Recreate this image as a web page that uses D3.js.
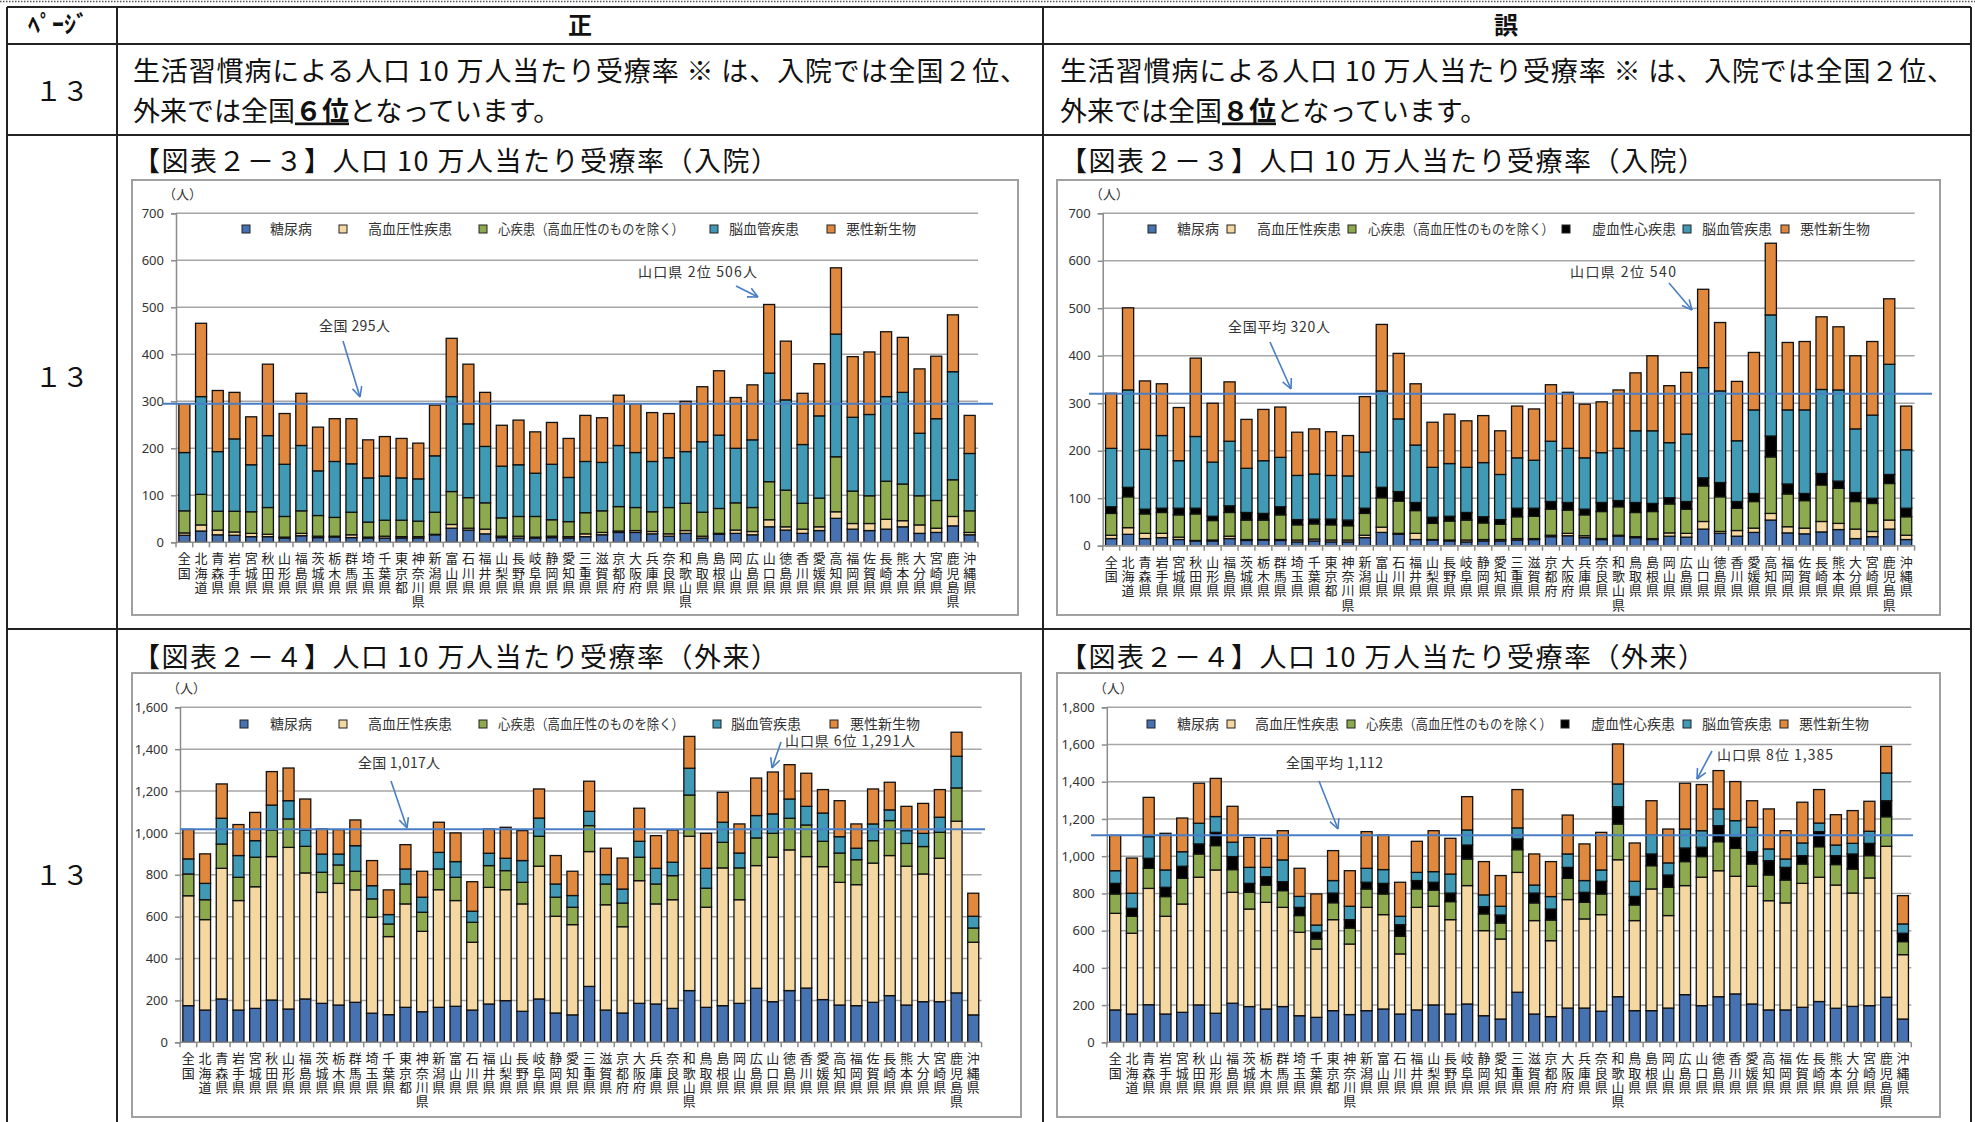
<!DOCTYPE html>
<html>
<head>
<meta charset="utf-8">
<script src="https://cdn.jsdelivr.net/npm/d3@7"></script>
<style>
body { margin: 0; background: #fff; }
svg text { font-family: "Noto Sans CJK JP", "Noto Sans", sans-serif; }
</style>
</head>
<body>
<svg id="page" width="1975" height="1122"></svg>
<script>
// ---- categories ----
var prefs = ["全国","北海道","青森県","岩手県","宮城県","秋田県","山形県","福島県","茨城県","栃木県","群馬県","埼玉県","千葉県","東京都","神奈川県","新潟県","富山県","石川県","福井県","山梨県","長野県","岐阜県","静岡県","愛知県","三重県","滋賀県","京都府","大阪府","兵庫県","奈良県","和歌山県","鳥取県","島根県","岡山県","広島県","山口県","徳島県","香川県","愛媛県","高知県","福岡県","佐賀県","長崎県","熊本県","大分県","宮崎県","鹿児島県","沖縄県"];

// ---- 図表2-3 入院 (正) ----
var inSeiDiab   = [15,24,16,15,12,12,9,14,10,11,10,9,9,9,9,16,30,26,18,10,9,9,10,9,12,16,21,21,18,13,19,9,17,19,16,33,26,19,25,51,28,25,28,33,19,21,35,16];
var inSeiHyp    = [5,13,10,7,7,5,2,5,3,2,6,2,4,3,3,1,8,4,10,3,4,2,3,3,6,5,3,4,5,5,6,4,2,7,7,15,7,9,8,14,12,15,21,13,18,9,20,5];
var inSeiHeart  = [47,65,40,44,46,57,44,48,44,40,48,32,34,35,33,47,70,65,56,39,42,44,35,32,45,46,52,49,42,56,58,51,53,58,51,81,78,55,61,117,69,59,81,78,62,59,78,46];
var inSeiCereb  = [124,208,127,154,100,153,111,139,95,119,103,94,94,90,90,120,202,157,120,110,110,92,118,94,109,103,130,117,107,106,110,150,156,116,144,231,192,125,175,261,157,173,180,195,133,174,230,122];
var inSeiCancer = [104,156,130,99,102,152,108,111,93,91,96,81,84,84,76,108,124,127,115,87,95,88,89,83,98,95,107,104,104,94,107,117,137,108,117,146,125,109,111,141,129,133,138,117,137,133,121,81];

// ---- 図表2-3 入院 (誤) ----
var inGoDiab    = [15,24,15,17,13,10,10,15,11,12,11,8,10,8,8,17,28,24,13,12,10,8,10,10,12,13,19,21,17,13,20,17,13,20,18,35,26,20,28,54,27,25,29,34,15,19,35,13];
var inGoHyp     = [7,14,11,9,5,1,2,5,2,1,2,4,4,4,4,5,11,2,13,1,2,4,3,3,3,2,3,5,4,2,2,2,2,7,8,16,4,12,9,14,13,12,22,13,20,11,19,9];
var inGoHeart   = [46,65,41,44,47,56,41,50,41,41,52,32,32,32,30,46,62,68,48,34,40,42,35,32,46,47,55,49,44,57,60,51,57,61,51,75,73,47,56,119,69,58,77,74,58,59,77,39];
var inGoIsch    = [14,20,10,9,14,12,9,14,16,14,17,11,10,12,12,11,22,20,17,13,10,16,13,10,18,17,16,16,12,19,13,21,17,13,16,17,30,14,17,44,21,15,24,15,19,11,19,18];
var inGoCereb   = [123,205,126,153,100,151,114,136,93,111,104,93,95,92,93,118,203,153,121,105,111,95,114,95,106,101,127,114,108,105,110,151,153,116,142,232,193,128,176,255,156,176,177,192,134,175,232,123];
var inGoCancer  = [116,173,144,109,112,165,124,125,103,108,106,91,95,92,85,117,140,138,129,95,104,98,99,92,109,108,119,118,113,107,123,122,158,120,130,165,144,125,121,151,142,144,153,133,154,155,138,92];

// ---- 図表2-4 外来 (正) ----
var outSeiDiab   = [175,154,207,154,162,202,159,207,186,178,191,139,132,167,146,167,172,154,183,199,148,207,140,131,267,154,140,186,183,162,247,167,175,186,258,194,247,259,204,178,175,191,223,178,194,194,236,131];
var outSeiHyp    = [525,432,624,523,581,685,772,602,530,581,537,458,373,494,384,562,505,324,557,530,513,634,462,431,644,503,412,586,478,519,737,478,658,495,586,690,672,628,635,586,578,665,669,663,610,685,820,347];
var outSeiHeart  = [104,95,116,111,141,127,136,127,96,88,89,88,60,95,91,99,111,95,104,91,103,143,91,83,124,99,113,112,95,115,197,91,122,152,132,114,151,151,121,140,119,107,167,109,131,124,159,68];
var outSeiCereb  = [72,78,123,104,79,119,87,78,87,52,122,63,45,72,72,79,75,53,59,59,104,87,63,56,68,45,67,76,75,64,128,95,96,71,107,93,92,89,135,78,55,80,51,61,63,72,151,56];
var outSeiCancer = [141,141,164,148,135,160,156,148,120,117,123,120,118,116,124,144,137,141,116,148,143,139,136,116,144,126,148,158,156,154,152,167,143,139,179,200,164,158,112,172,116,167,132,116,143,132,115,110];

// ---- 図表2-4 外来 (誤) ----
var outGoDiab    = [174,152,202,152,161,201,156,210,192,179,192,143,134,170,149,170,179,152,174,201,152,206,143,125,269,152,138,184,184,167,245,170,170,184,256,197,245,260,206,174,174,188,219,183,193,197,242,125];
var outGoHyp     = [519,434,625,525,582,686,770,596,524,573,533,448,367,489,379,555,507,323,551,530,507,636,457,430,644,502,408,583,479,519,736,484,654,497,586,690,677,632,632,587,575,666,668,662,609,686,811,346];
var outGoHeart   = [104,91,108,106,138,125,131,122,90,93,90,90,54,91,86,99,111,95,99,87,97,143,90,86,122,95,111,114,89,111,192,84,125,152,129,111,156,150,120,138,123,104,164,110,129,120,159,70];
var outGoIsch    = [57,43,54,50,65,54,71,70,48,45,48,44,36,52,45,36,57,62,45,42,46,75,39,43,58,53,59,59,54,68,93,46,63,66,73,50,86,59,66,77,68,45,81,48,81,66,86,45];
var outGoCereb   = [68,81,116,93,78,111,85,77,86,50,117,59,39,67,72,75,74,45,44,57,102,81,63,47,59,43,67,72,63,61,122,81,102,65,102,89,90,90,131,63,45,68,46,57,57,65,149,50];
var outGoCancer  = [190,189,211,197,181,215,205,193,161,156,157,151,167,161,191,197,186,183,167,220,192,179,179,165,206,167,188,209,197,202,215,206,184,182,246,248,206,210,143,215,152,219,180,163,176,161,143,152];

// legend names / colours
var seriesLabels = {
	diab: "糖尿病", hyp: "高血圧性疾患", heart: "心疾患（高血圧性のものを除く）",
	isch: "虚血性心疾患", cereb: "脳血管疾患", cancer: "悪性新生物"
};
var seriesColors = {
	diab: "#4672b2", hyp: "#f4d7a1", heart: "#8dab4e",
	isch: "#000000", cereb: "#419ab5", cancer: "#e0883d"
};

var charts = [
	{
		box: [132, 180, 886, 435], plot: {l: 176, r: 978, t: 213.3, b: 542.3},
		yMax: 700, yStep: 100, avg: 295,
		series: {diab: inSeiDiab, hyp: inSeiHyp, heart: inSeiHeart, cereb: inSeiCereb, cancer: inSeiCancer},
		legendY: 229, legendX: [242, 339, 479, 710, 827], legendGap: [20, 21, 11, 11, 11],
		avgLine: [162, 993],
		notes: [
			{text: "全国 295人", x: 319, y: 331, w: 71, arrow: [343, 341, 360, 397]},
			{text: "山口県 2位 506人", x: 638, y: 277, w: 119, arrow: [736, 286, 758, 297]}
		]
	},
	{
		box: [1057, 180, 883, 435], plot: {l: 1102.7, r: 1914.6, t: 213.3, b: 545.7},
		yMax: 700, yStep: 100, avg: 320,
		series: {diab: inGoDiab, hyp: inGoHyp, heart: inGoHeart, isch: inGoIsch, cereb: inGoCereb, cancer: inGoCancer},
		legendY: 229, legendX: [1148, 1227, 1348, 1562, 1683, 1781], legendGap: [21, 22, 12, 22, 11, 11],
		avgLine: [1089, 1932],
		notes: [
			{text: "全国平均 320人", x: 1228, y: 332, w: 102, arrow: [1270, 342, 1291, 389]},
			{text: "山口県 2位 540", x: 1570, y: 277, w: 106, arrow: [1669, 283, 1692, 310]}
		]
	},
	{
		box: [132, 673, 889, 444], plot: {l: 180, r: 981.6, t: 707.3, b: 1042.3},
		yMax: 1600, yStep: 200, avg: 1017,
		series: {diab: outSeiDiab, hyp: outSeiHyp, heart: outSeiHeart, cereb: outSeiCereb, cancer: outSeiCancer},
		legendY: 724, legendX: [240, 339, 479, 713, 830], legendGap: [22, 21, 11, 10, 12],
		avgLine: [180, 985],
		notes: [
			{text: "全国 1,017人", x: 358, y: 768, w: 82, arrow: [391, 781, 407, 828]},
			{text: "山口県 6位 1,291人", x: 785, y: 746, w: 130, arrow: [781, 742, 772, 768]}
		]
	},
	{
		box: [1057, 673, 883, 444], plot: {l: 1106.8, r: 1911.3, t: 707.3, b: 1042.3},
		yMax: 1800, yStep: 200, avg: 1112,
		series: {diab: outGoDiab, hyp: outGoHyp, heart: outGoHeart, isch: outGoIsch, cereb: outGoCereb, cancer: outGoCancer},
		legendY: 724, legendX: [1147, 1227, 1347, 1561, 1683, 1780], legendGap: [22, 20, 11, 22, 11, 11],
		avgLine: [1091, 1913],
		notes: [
			{text: "全国平均 1,112", x: 1286, y: 768, w: 97, arrow: [1319, 781, 1338, 829]},
			{text: "山口県 8位 1,385", x: 1717, y: 760, w: 116, arrow: [1712, 751, 1697, 779]}
		]
	}
];

var svg = d3.select("#page");

// ---------- table frame ----------
var ink = "#222";
svg.append("line").attr("x1", 0).attr("x2", 1975).attr("y1", 1.5).attr("y2", 1.5)
	.attr("stroke", "#555").attr("stroke-width", 1.5).attr("stroke-dasharray", "1.5,1.5");

[7, 44, 135, 629].forEach(function (y) {
	svg.append("line").attr("x1", 7).attr("x2", 1971).attr("y1", y).attr("y2", y)
		.attr("stroke", ink).attr("stroke-width", 2);
});
[7, 117, 1043, 1971].forEach(function (x) {
	svg.append("line").attr("x1", x).attr("x2", x).attr("y1", 7).attr("y2", 1122)
		.attr("stroke", ink).attr("stroke-width", 2);
});

function addText(str, x, y, size, opts) {
	opts = opts || {};
	var t = svg.append("text").attr("x", x).attr("y", y)
		.attr("font-size", size).attr("fill", "#111")
		.attr("text-anchor", opts.anchor || "start")
		.attr("font-weight", opts.bold ? "bold" : "normal")
		.text(str);
	if (opts.len) t.attr("textLength", opts.len).attr("lengthAdjust", "spacing");
	return t;
}

addText("ﾍﾟｰｼﾞ", 58, 33, 24, {anchor: "middle", bold: true});
addText("正", 580, 34, 24, {anchor: "middle", bold: true});
addText("誤", 1506, 34, 24, {anchor: "middle", bold: true});

[101, 387, 885].forEach(function (y) { addText("１３", 62, y, 27, {anchor: "middle"}); });

// sentence rows
[{x: 133, rank: "６位"}, {x: 1060, rank: "８位"}].forEach(function (c) {
	addText("生活習慣病による人口 10 万人当たり受療率 ※ は、入院では全国２位、", c.x, 81, 27, {len: 894});
	var t = svg.append("text").attr("x", c.x).attr("y", 120.5).attr("font-size", 27).attr("fill", "#111");
	t.append("tspan").text("外来では全国");
	t.append("tspan").attr("font-weight", "bold").style("text-decoration", "underline").text(c.rank);
	t.append("tspan").text("となっています。");
});

// chart titles
addText("【図表２－３】人口 10 万人当たり受療率（入院）", 133, 171, 27, {len: 645});
addText("【図表２－３】人口 10 万人当たり受療率（入院）", 1060, 171, 27, {len: 645});
addText("【図表２－４】人口 10 万人当たり受療率（外来）", 133, 667, 27, {len: 645});
addText("【図表２－４】人口 10 万人当たり受療率（外来）", 1060, 667, 27, {len: 645});

// ---------- charts ----------
function drawArrow(g, a) {
	var ang = Math.atan2(a[3] - a[1], a[2] - a[0]);
	var len = 11, spread = 0.45;
	g.append("line").attr("x1", a[0]).attr("y1", a[1]).attr("x2", a[2]).attr("y2", a[3]);
	[-spread, spread].forEach(function (s) {
		g.append("line").attr("x1", a[2]).attr("y1", a[3])
			.attr("x2", a[2] - len * Math.cos(ang + s))
			.attr("y2", a[3] - len * Math.sin(ang + s));
	});
}

function drawChart(c) {
	var g = svg.append("g");
	var keys = Object.keys(c.series);

	g.append("rect").attr("x", c.box[0]).attr("y", c.box[1])
		.attr("width", c.box[2]).attr("height", c.box[3])
		.attr("fill", "#fff").attr("stroke", "#a0a0a0").attr("stroke-width", 2);

	var x = d3.scaleBand().domain(prefs).range([c.plot.l, c.plot.r])
		.paddingInner(0.34).paddingOuter(0.17);
	var y = d3.scaleLinear().domain([0, c.yMax]).range([c.plot.b, c.plot.t]);
	var tickVals = d3.range(0, c.yMax + 1, c.yStep);

	// grid
	g.append("g").selectAll("line").data(tickVals.slice(1)).enter().append("line")
		.attr("x1", c.plot.l).attr("x2", c.plot.r)
		.attr("y1", function (d) { return y(d); }).attr("y2", function (d) { return y(d); })
		.attr("stroke", "#a6a6a6").attr("stroke-width", 1.5);

	// y axis
	var ya = g.append("g").attr("transform", "translate(" + c.plot.l + ",0)")
		.call(d3.axisLeft(y).tickValues(tickVals).tickSize(5).tickPadding(7).tickFormat(d3.format(",")));
	ya.selectAll("path, line").attr("stroke", "#8c8c8c").attr("stroke-width", 1.5);
	ya.selectAll("text").attr("font-size", 13).attr("fill", "#333")
		.style("font-family", "'Noto Sans', 'DejaVu Sans', sans-serif");

	g.append("text").attr("x", c.plot.l - 13).attr("y", c.plot.t - 14)
		.attr("font-size", 13).attr("fill", "#333").text("（人）");

	// stacked bars
	var rows = prefs.map(function (p, i) {
		var r = {pref: p};
		keys.forEach(function (k) { r[k] = c.series[k][i]; });
		return r;
	});
	var stacked = d3.stack().keys(keys)(rows);
	g.append("g").selectAll("g").data(stacked).enter().append("g")
		.attr("fill", function (s) { return seriesColors[s.key]; })
		.selectAll("rect").data(function (s) { return s; }).enter().append("rect")
		.attr("x", function (d) { return x(d.data.pref); })
		.attr("width", x.bandwidth())
		.attr("y", function (d) { return y(d[1]); })
		.attr("height", function (d) { return y(d[0]) - y(d[1]); })
		.attr("stroke", "#111").attr("stroke-width", 1.3);

	// x axis line + ticks at band boundaries
	g.append("line").attr("x1", c.plot.l).attr("x2", c.plot.r)
		.attr("y1", c.plot.b).attr("y2", c.plot.b)
		.attr("stroke", "#8c8c8c").attr("stroke-width", 1.5);
	g.append("g").selectAll("line").data(d3.range(prefs.length + 1)).enter().append("line")
		.attr("x1", function (i) { return c.plot.l + i * x.step(); })
		.attr("x2", function (i) { return c.plot.l + i * x.step(); })
		.attr("y1", c.plot.b).attr("y2", c.plot.b + 5)
		.attr("stroke", "#8c8c8c").attr("stroke-width", 1.5);

	// vertical category labels (vertical writing mode)
	g.append("g").selectAll("text").data(prefs).enter().append("text")
		.attr("x", function (d) { return x(d) + x.bandwidth() / 2; })
		.attr("y", c.plot.b + 9.5)
		.style("writing-mode", "vertical-rl")
		.attr("letter-spacing", 1.3)
		.attr("font-size", 13).attr("fill", "#222")
		.text(function (d) { return d; });

	// national average line
	g.append("line").attr("x1", c.avgLine[0]).attr("x2", c.avgLine[1])
		.attr("y1", y(c.avg)).attr("y2", y(c.avg))
		.attr("stroke", "#4a7ec4").attr("stroke-width", 2);

	// annotations
	var ag = g.append("g").attr("stroke", "#4a7ec4").attr("stroke-width", 1.6).attr("fill", "none");
	c.notes.forEach(function (n) {
		g.append("text").attr("x", n.x).attr("y", n.y).attr("font-size", 14).attr("fill", "#333")
			.attr("textLength", n.w).attr("lengthAdjust", "spacing").text(n.text);
		drawArrow(ag, n.arrow);
	});

	// legend
	keys.forEach(function (k, i) {
		var lx = c.legendX[i];
		g.append("rect").attr("x", lx).attr("y", c.legendY - 4).attr("width", 8).attr("height", 8)
			.attr("fill", seriesColors[k]).attr("stroke", "#222").attr("stroke-width", 1);
		var t = g.append("text").attr("x", lx + 8 + c.legendGap[i]).attr("y", c.legendY + 5)
			.attr("font-size", 14).attr("fill", "#333").text(seriesLabels[k]);
		if (k === "heart") t.attr("textLength", 186).attr("lengthAdjust", "spacingAndGlyphs");
	});
}

charts.forEach(drawChart);
</script>
</body>
</html>
